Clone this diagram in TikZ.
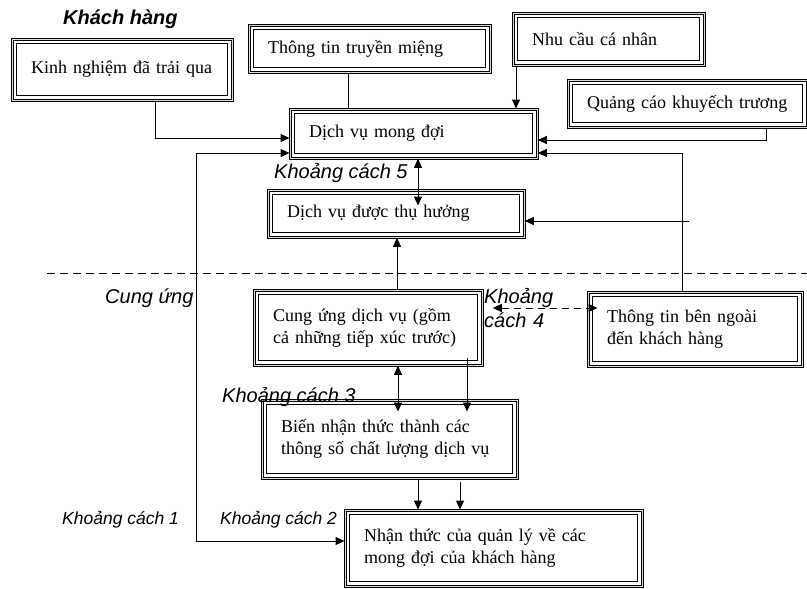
\documentclass[tikz,border=0pt]{standalone}
\usepackage{fontspec}
\setmainfont{Liberation Serif}
\setsansfont{Liberation Sans}
\usetikzlibrary{arrows.meta,calc}

\begin{document}
\begin{tikzpicture}[
                x=1pt, y=-1pt,
                box/.style={draw, double=black!15, line width=1.3pt, double distance=0.7pt,
                        anchor=north west, align=left, inner xsep=19pt, inner ysep=0pt,
                        font=\fontsize{18}{22}\selectfont,
                        append after command={\pgfextra{\draw[line width=1pt]
                                ([shift={(5pt,-5pt)}]\tikzlastnode.north west) rectangle
                                ([shift={(-5pt,5pt)}]\tikzlastnode.south east);}}},
                lbl/.style={anchor=base west, inner sep=0pt,
                        font=\fontsize{20}{24}\selectfont\sffamily\itshape},
                small lbl/.style={lbl, font=\fontsize{17.5}{21}\selectfont\sffamily\itshape},
                arr/.style={line width=1pt, -{Triangle[length=9pt,width=8pt]}},
                dbl/.style={line width=1pt,
                        {Triangle[length=9pt,width=8pt]}-{Triangle[length=9pt,width=8pt]}}
            ]

            \useasboundingbox (0,0) rectangle (807,589);

            \node[box, text width=182pt, minimum height=61pt] (kinh) at (11.5,38.5) {Kinh nghiệm đã trải qua};
            \node[box, text width=203pt, minimum height=47pt] (truyen) at (248.5,24.5) {Thông tin truyền miệng};
            \node[box, text width=153pt, minimum height=52pt] (nhucau) at (512.5,12.5) {Nhu cầu cá nhân};
            \node[box, text width=201pt, minimum height=47pt] (quangcao) at (567.5,79.5) {Quảng cáo khuyếch trương};
            \node[box, text width=209pt, minimum height=49pt] (mongdoi) at (289.5,108.5) {Dịch vụ mong đợi};
            \node[box, text width=218pt, minimum height=47pt] (thuhuong) at (267.5,189.5) {Dịch vụ được thụ hưởng};
            \node[box, text width=190pt, minimum height=75pt] (cungung) at (253.5,289.5) {Cung ứng dịch vụ (gồm\\cả những tiếp xúc trước)};
            \node[box, text width=176pt, minimum height=74pt] (benngoai) at (587.5,291.5) {Thông tin bên ngoài\\đến khách hàng};
            \node[box, text width=217pt, minimum height=78pt] (bien) at (261.5,399.5) {Biến nhận thức thành các\\thông số chất lượng dịch vụ};
            \node[box, text width=259pt, minimum height=76pt] (nhanthuc) at (344.5,509.5) {Nhận thức của quản lý về các\\mong đợi của khách hàng};

            \node[lbl, font=\fontsize{20}{24}\selectfont\sffamily\itshape\bfseries] (khach) at (63,24) {Khách hàng};
            \node[lbl] (kc5) at (274,178) {Khoảng cách 5};
            \node[lbl] (cung) at (105,303) {Cung ứng};
            \node[lbl] (kc3) at (222,402) {Khoảng cách 3};
            \node[lbl, align=left, text width=80pt] (kc4) at (484,303) {Khoảng\\cách 4};
            \node[small lbl] (kc1) at (62,524) {Khoảng cách 1};
            \node[small lbl] (kc2) at (220,524) {Khoảng cách 2};

            \draw[line width=1pt, dash pattern=on 8pt off 5pt] (47,273) -- (807,273);

            \coordinate (tap) at (689,221);

            \draw[arr] (155,0 |- kinh.south) |- (mongdoi.west |- 0,138);
            \draw[line width=1pt] (348,0 |- truyen.south) -- (348,0 |- mongdoi.north);
            \draw[arr] (516,0 |- nhucau.south) -- (516,0 |- mongdoi.north);
            \draw[arr] (766,0 |- quangcao.south) |- (mongdoi.east |- 0,140);
            \draw[arr] (682,0 |- benngoai.north) |- (mongdoi.east |- 0,153);
            \draw[arr] (tap) -- (thuhuong.east |- tap);
            \draw[dbl] (418,0 |- mongdoi.south) -- ($(418,0 |- thuhuong.north)+(0,16)$);
            \draw[arr] (397,0 |- cungung.north) -- (397,0 |- thuhuong.south);
            \draw[dbl] (398,0 |- cungung.south) -- ($(398,0 |- bien.north)+(0,12)$);
            \draw[arr] ($(467,0 |- cungung.south)+(0,-8)$) -- ($(467,0 |- bien.north)+(0,12)$);
            \draw[arr] (418,0 |- bien.south) -- (418,0 |- nhanthuc.north);
            \draw[arr] ($(460,0 |- bien.south)+(0,3)$) -- (460,0 |- nhanthuc.north);
            \draw[dbl] (nhanthuc.west |- 0,541) -| (196,153) -- (mongdoi.west |- 0,153);
            \draw[dbl, dash pattern=on 7pt off 5pt] ($(cungung.east |- 0,308)+(10,0)$) -- ($(benngoai.west |- 0,308)+(10,0)$);

        \end{tikzpicture}
\end{document}
